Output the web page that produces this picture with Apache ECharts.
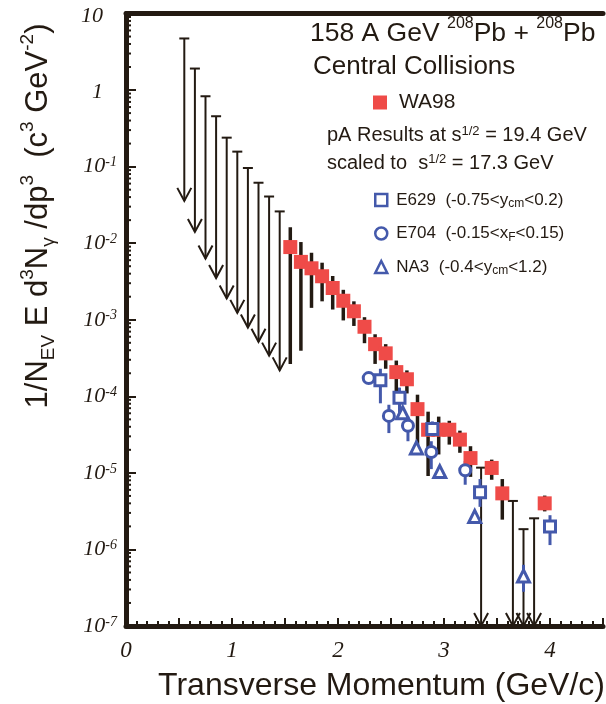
<!DOCTYPE html>
<html>
<head>
<meta charset="utf-8">
<script src="https://cdn.jsdelivr.net/npm/echarts@6/dist/echarts.min.js"></script>
<style>
  html, body { margin: 0; padding: 0; background: #fff; }
  #chart { width: 606px; height: 704px; }
</style>
</head>
<body>
<div id="chart"></div>
<script>
const ink = '#231a12';
const red = '#ef4b48';
const blue = '#4459ab';
const sans = '"Liberation Sans", Arial, sans-serif';
const serif = '"Liberation Serif", "Times New Roman", serif';

// WA98 points (pT, value, lower and upper end of the error bar)
const wa98Pt  = [1.55, 1.65, 1.75, 1.85, 1.95, 2.05, 2.15, 2.25, 2.35, 2.45, 2.55, 2.65, 2.75, 2.85, 2.95, 3.05, 3.15, 3.25, 3.45, 3.55, 3.95];
const wa98Val = [8.9e-3, 5.7e-3, 4.7e-3, 3.7e-3, 2.6e-3, 1.77e-3, 1.29e-3, 8.1e-4, 4.8e-4, 3.64e-4, 2.07e-4, 1.67e-4, 6.8e-5, 3.66e-5, 3.66e-5, 3.66e-5, 2.72e-5, 1.56e-5, 1.16e-5, 5.4e-6, 4.0e-6];
const wa98Lo  = [2.65e-4, 3.94e-4, 1.43e-3, 1.74e-3, 1.36e-3, 9.8e-4, 8.3e-4, 4.94e-4, 2.65e-4, 2.29e-4, 1.14e-4, 1.09e-4, 2.12e-5, 9.1e-6, 1.74e-5, 2.34e-5, 1.83e-5, 8.87e-6, 8.13e-6, 2.45e-6, 3.14e-6];
const wa98Hi  = [0.0162, 0.01035, 7.5e-3, 5.56e-3, 3.73e-3, 2.46e-3, 1.74e-3, 1.08e-3, 6.46e-4, 4.8e-4, 2.93e-4, 2.18e-4, 1.05e-4, 6.3e-5, 5.43e-5, 4.79e-5, 3.56e-5, 2.23e-5, 1.49e-5, 8.3e-6, 5.05e-6];

// WA98 upper limits (top of bar, arrow tip)
const ulPt  = [0.55, 0.65, 0.75, 0.85, 0.95, 1.05, 1.15, 1.25, 1.35, 1.45, 3.35, 3.65, 3.75, 3.85];
const ulTop = [4.72, 1.91, 0.83, 0.455, 0.239, 0.157, 0.096, 0.0616, 0.0407, 0.026, 1.17e-5, 4.3e-6, 1.84e-6, 2.55e-6];
const ulTip = [0.0357, 0.014, 0.0063, 0.0035, 0.0019, 0.00123, 7.9e-4, 5.15e-4, 3.4e-4, 2.18e-4, 1e-7, 1e-7, 1e-7, 1e-7];

// pA results scaled to 17.3 GeV
const e629Pt  = [2.40, 2.58, 2.89, 3.34, 4.00];
const e629Val = [1.62e-4, 9.6e-5, 3.75e-5, 5.6e-6, 2.0e-6];
const e629Lo  = [8.1e-5, 6.0e-5, 3.0e-5, 3.6e-6, 1.14e-6];
const e629Hi  = [2.29e-4, 1.3e-4, 4.7e-5, 8.3e-6, 2.8e-6];

const e704Pt  = [2.29, 2.48, 2.66, 2.88, 3.20];
const e704Val = [1.73e-4, 5.55e-5, 4.12e-5, 1.87e-5, 1.08e-5];
const e704Lo  = [null, 3.31e-5, 2.59e-5, 1.12e-5, 7.0e-6];
const e704Hi  = [null, 7.76e-5, 5.43e-5, 2.59e-5, 1.43e-5];

const na3Pt  = [2.61, 2.74, 2.96, 3.29, 3.75];
const na3Val = [6.1e-5, 2.12e-5, 1.04e-5, 2.7e-6, 4.5e-7];
const na3Lo  = [null, null, null, null, 2.8e-7];
const na3Hi  = [null, null, null, null, 6.3e-7];

const xLabels = ['0', '1', '2', '3', '4'];
const legendText = {
  'WA98': 'WA98',
  'E629': 'E629  (-0.75<y{sub|cm}<0.2)',
  'E704': 'E704  (-0.15<x{sub|F}<0.15)',
  'NA3': 'NA3  (-0.4<y{sub|cm}<1.2)'
};

// minor log ticks 2..9 per decade
const yMinor = [];
for (let e = -7; e < 1; e++) {
  for (let k = 2; k <= 9; k++) yMinor.push([0, k * Math.pow(10, e)]);
}

function pairs(xs, ys) { return xs.map((x, i) => [x, ys[i]]); }
function bars(xs, lo, hi) {
  const out = [];
  xs.forEach((x, i) => { if (lo[i] != null) out.push([x, lo[i], hi[i]]); });
  return out;
}

function barRenderer(color, width) {
  return function (params, api) {
    const a = api.coord([api.value(0), api.value(1)]);
    const b = api.coord([api.value(0), api.value(2)]);
    return {
      type: 'line',
      shape: { x1: a[0], y1: a[1], x2: b[0], y2: b[1] },
      style: { stroke: color, lineWidth: width }
    };
  };
}

function upperLimit(params, api) {
  const x = api.value(0);
  const a = api.coord([x, api.value(1)]);
  const b = api.coord([x, api.value(2)]);
  const st = { stroke: ink, lineWidth: 2, fill: null };
  return {
    type: 'group',
    children: [
      { type: 'line', shape: { x1: a[0], y1: a[1], x2: b[0], y2: b[1] }, style: st },
      { type: 'line', shape: { x1: a[0] - 5, y1: a[1], x2: a[0] + 5, y2: a[1] }, style: st },
      { type: 'polyline', shape: { points: [[b[0] - 7, b[1] - 13], [b[0], b[1]], [b[0] + 7, b[1] - 13]] }, style: st }
    ]
  };
}

function minorTick(params, api) {
  const p = api.coord([api.value(0), api.value(1)]);
  return {
    type: 'line',
    shape: { x1: p[0], y1: p[1], x2: p[0] + 5, y2: p[1] },
    style: { stroke: ink, lineWidth: 2 }
  };
}

const hollow = { color: '#fff', borderColor: blue, borderWidth: 3, opacity: 1 };

const chart = echarts.init(document.getElementById('chart'));

chart.setOption({
  animation: false,
  backgroundColor: '#fff',
  grid: { left: 126, right: -11, top: 6.5, bottom: 78 },
  xAxis: [{
    type: 'value', min: 0, max: 4.5, interval: 0.5,
    axisLine: { onZero: false, lineStyle: { color: ink, width: 5 } },
    axisTick: { inside: true, length: 8, lineStyle: { color: ink, width: 2 } },
    minorTick: { show: true, splitNumber: 5, length: 5, lineStyle: { color: ink, width: 2 } },
    splitLine: { show: false },
    axisLabel: {
      margin: 13, color: ink, fontFamily: serif, fontStyle: 'italic', fontSize: 23,
      formatter: v => Number.isInteger(v) ? (xLabels[v] || '') : ''
    }
  }, {
    type: 'value', position: 'top', min: 0, max: 4.5,
    axisLine: { onZero: false, lineStyle: { color: ink, width: 5 } },
    axisTick: { show: false }, axisLabel: { show: false }, splitLine: { show: false }
  }],
  yAxis: {
    type: 'log', logBase: 10, min: 1e-7, max: 10,
    axisLine: { onZero: false, lineStyle: { color: ink, width: 5 } },
    axisTick: { inside: true, length: 10, lineStyle: { color: ink, width: 2 } },
    splitLine: { show: false },
    axisLabel: {
      margin: 9, color: ink, fontFamily: serif, fontStyle: 'italic',
      formatter: v => {
        const e = Math.round(Math.log10(v));
        if (e === 0) return '{p|1}';
        if (e === 1) return '{p|10}';
        return '{n|10}{s|' + e + '}';
      },
      rich: {
        n: { fontSize: 22, lineHeight: 22, padding: [8, 0, 0, 0], verticalAlign: 'bottom', fontFamily: serif, fontStyle: 'italic', color: ink },
        s: { fontSize: 14, lineHeight: 14, verticalAlign: 'top', fontFamily: serif, fontStyle: 'italic', color: ink },
        p: { fontSize: 22, lineHeight: 22, padding: [5, 14, 0, 0], fontFamily: serif, fontStyle: 'italic', color: ink }
      }
    }
  },
  legend: [{
    data: ['WA98'], left: 373, top: 92, padding: 0,
    itemWidth: 14, itemHeight: 14,
    itemStyle: { opacity: 1 },
    textStyle: { fontFamily: sans, fontSize: 21, color: ink, padding: [0, 0, 0, 7] }
  }, {
    data: ['E629', 'E704', 'NA3'], orient: 'vertical', left: 374, top: 190, padding: 0,
    itemWidth: 12, itemHeight: 12, itemGap: 13.5,
    itemStyle: { borderWidth: 2.5, opacity: 1 },
    formatter: name => legendText[name],
    textStyle: {
      fontFamily: sans, fontSize: 17, lineHeight: 20, color: ink, padding: [0, 0, 0, 4],
      rich: { sub: { fontFamily: sans, fontSize: 12, lineHeight: 12, verticalAlign: 'bottom', color: ink } }
    }
  }],
  graphic: [
    {
      type: 'text', x: 310, y: 34,
      style: {
        text: '158 A GeV {sup|208}Pb + {sup|208}Pb',
        fontFamily: sans, fontSize: 26.5, lineHeight: 36, fill: ink, align: 'left', verticalAlign: 'middle',
        rich: { sup: { fontFamily: sans, fontSize: 16, lineHeight: 16, verticalAlign: 'top', fill: ink } }
      }
    },
    {
      type: 'text', x: 313, y: 67,
      style: { text: 'Central Collisions', fontFamily: sans, fontSize: 26, fill: ink, align: 'left', verticalAlign: 'middle' }
    },
    {
      type: 'text', x: 327, y: 135,
      style: {
        text: 'pA Results at s{sup|1/2} = 19.4 GeV',
        fontFamily: sans, fontSize: 20, lineHeight: 21, fill: ink, align: 'left', verticalAlign: 'middle',
        rich: { sup: { fontFamily: sans, fontSize: 13, lineHeight: 13, verticalAlign: 'top', fill: ink } }
      }
    },
    {
      type: 'text', x: 327, y: 163,
      style: {
        text: 'scaled to  s{sup|1/2} = 17.3 GeV',
        fontFamily: sans, fontSize: 20, lineHeight: 21, fill: ink, align: 'left', verticalAlign: 'middle',
        rich: { sup: { fontFamily: sans, fontSize: 13, lineHeight: 13, verticalAlign: 'top', fill: ink } }
      }
    },
    {
      type: 'text', x: 605, y: 686,
      style: { text: 'Transverse Momentum (GeV/c)', fontFamily: sans, fontSize: 32, fill: ink, align: 'right', verticalAlign: 'middle' }
    },
    {
      type: 'text', x: 38, y: 216, rotation: Math.PI / 2,
      style: {
        text: '1/N{sub|EV} E d{sup|3}N{sub|γ} /dp{sup|3}  (c{sup|3} GeV{sup|-2})',
        fontFamily: sans, fontSize: 31, lineHeight: 40, fill: ink, align: 'center', verticalAlign: 'middle',
        rich: {
          sub: { fontFamily: sans, fontSize: 19, lineHeight: 19, verticalAlign: 'bottom', fill: ink },
          sup: { fontFamily: sans, fontSize: 19, lineHeight: 19, verticalAlign: 'top', fill: ink }
        }
      }
    }
  ],
  series: [
    { name: 'minor', type: 'custom', silent: true, renderItem: minorTick, data: yMinor, z: 3 },
    { name: 'wa98-ul', type: 'custom', silent: true, renderItem: upperLimit, data: ulPt.map((x, i) => [x, ulTop[i], ulTip[i]]) },
    { name: 'wa98-err', type: 'custom', silent: true, renderItem: barRenderer(ink, 3.5), data: bars(wa98Pt, wa98Lo, wa98Hi) },
    { name: 'WA98', type: 'scatter', silent: true, symbol: 'rect', symbolSize: 14, itemStyle: { color: red, opacity: 1 }, data: pairs(wa98Pt, wa98Val) },
    { name: 'e629-err', type: 'custom', silent: true, renderItem: barRenderer(blue, 3), data: bars(e629Pt, e629Lo, e629Hi) },
    { name: 'e704-err', type: 'custom', silent: true, renderItem: barRenderer(blue, 3), data: bars(e704Pt, e704Lo, e704Hi) },
    { name: 'na3-err', type: 'custom', silent: true, renderItem: barRenderer(blue, 3), data: bars(na3Pt, na3Lo, na3Hi) },
    { name: 'E629', type: 'scatter', silent: true, symbol: 'rect', symbolSize: 11, itemStyle: hollow, data: pairs(e629Pt, e629Val) },
    { name: 'E704', type: 'scatter', silent: true, symbol: 'circle', symbolSize: 11, itemStyle: hollow, data: pairs(e704Pt, e704Val) },
    { name: 'NA3', type: 'scatter', silent: true, symbol: 'triangle', symbolSize: 12, itemStyle: hollow, data: pairs(na3Pt, na3Val) }
  ]
});
</script>
</body>
</html>
